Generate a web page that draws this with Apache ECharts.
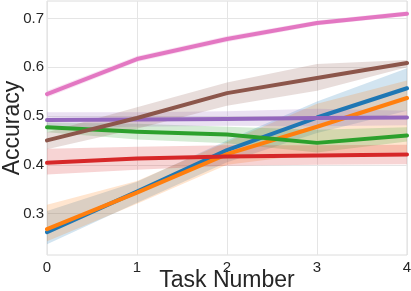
<!DOCTYPE html>
<html>
<head>
<meta charset="utf-8">
<script src="https://cdn.jsdelivr.net/npm/echarts@6/dist/echarts.min.js"></script>
<style>html,body{margin:0;padding:0;background:#fff}#c{width:411px;height:291px}</style>
</head>
<body>
<div id="c"></div>
<script>
const tasks = ['0', '1', '2', '3', '4'];
const yTicks = [0.3, 0.4, 0.5, 0.6, 0.7];

const blueMean = [0.262, 0.345, 0.430, 0.497, 0.557];
const blueLo   = [0.237, 0.322, 0.405, 0.465, 0.511];
const blueHi   = [0.305, 0.365, 0.450, 0.530, 0.598];

const orangeMean = [0.268, 0.343, 0.422, 0.478, 0.537];
const orangeLo   = [0.243, 0.320, 0.400, 0.423, 0.426];
const orangeHi   = [0.318, 0.367, 0.447, 0.525, 0.573];

const greenMean = [0.477, 0.468, 0.462, 0.445, 0.460];
const greenLo   = [0.467, 0.452, 0.444, 0.425, 0.448];
const greenHi   = [0.487, 0.484, 0.478, 0.472, 0.477];

const redMean = [0.404, 0.413, 0.417, 0.419, 0.421];
const redLo   = [0.380, 0.390, 0.398, 0.400, 0.401];
const redHi   = [0.433, 0.437, 0.440, 0.440, 0.441];

const purpleMean = [0.492, 0.493, 0.494, 0.496, 0.497];
const purpleLo   = [0.476, 0.478, 0.480, 0.479, 0.481];
const purpleHi   = [0.508, 0.508, 0.510, 0.515, 0.511];

const brownMean = [0.450, 0.496, 0.547, 0.578, 0.609];
const brownLo   = [0.432, 0.474, 0.521, 0.552, 0.600];
const brownHi   = [0.467, 0.518, 0.569, 0.607, 0.615];

const pinkMean = [0.545, 0.617, 0.658, 0.691, 0.710];
const pinkLo   = [0.538, 0.611, 0.652, 0.686, 0.705];
const pinkHi   = [0.552, 0.623, 0.664, 0.696, 0.715];

const groups = [
  {name: 'blue',   color: '#1f77b4', mean: blueMean,   lo: blueLo,   hi: blueHi},
  {name: 'orange', color: '#ff7f0e', mean: orangeMean, lo: orangeLo, hi: orangeHi},
  {name: 'green',  color: '#2ca02c', mean: greenMean,  lo: greenLo,  hi: greenHi},
  {name: 'red',    color: '#d62728', mean: redMean,    lo: redLo,    hi: redHi},
  {name: 'purple', color: '#9467bd', mean: purpleMean, lo: purpleLo, hi: purpleHi},
  {name: 'brown',  color: '#8c564b', mean: brownMean,  lo: brownLo,  hi: brownHi},
  {name: 'pink',   color: '#e377c2', mean: pinkMean,   lo: pinkLo,   hi: pinkHi}
];

const series = [];
groups.forEach((g, i) => {
  series.push({
    type: 'line', name: g.name + '_lo', data: g.lo, stack: 'band' + i,
    symbol: 'none', lineStyle: {opacity: 0}, z: 1 + i * 2, silent: true
  });
  series.push({
    type: 'line', name: g.name + '_band', data: g.hi.map((h, k) => h - g.lo[k]), stack: 'band' + i,
    symbol: 'none', lineStyle: {opacity: 0}, areaStyle: {color: g.color, opacity: 0.2},
    z: 2 + i * 2, silent: true
  });
});
groups.forEach((g, i) => {
  series.push({
    type: 'line', name: g.name, data: g.mean, symbol: 'none',
    lineStyle: {color: g.color, width: 4, cap: 'round', join: 'round'},
    itemStyle: {color: g.color}, z: 20 + i
  });
});

const chart = echarts.init(document.getElementById('c'), null, {renderer: 'canvas'});
chart.setOption({
  animation: false,
  backgroundColor: '#fff',
  grid: {left: 47, right: 4, top: 1, bottom: 36, containLabel: false, outerBoundsMode: 'none',
         show: true, borderColor: '#dcdcdc', borderWidth: 1},
  xAxis: {
    type: 'category', data: tasks, boundaryGap: false,
    axisLine: {show: false}, axisTick: {show: false},
    axisLabel: {color: '#262626', fontSize: 15, fontFamily: 'Liberation Sans', margin: 5},
    splitLine: {show: true, lineStyle: {color: '#e5e5e5', width: 1}},
    name: 'Task Number', nameLocation: 'middle', nameGap: 14, nameMoveOverlap: false,
    nameTextStyle: {color: '#262626', fontSize: 23, fontFamily: 'Liberation Sans', verticalAlign: 'top'}
  },
  yAxis: {
    type: 'value', min: 0.215, max: 0.736,
    axisLine: {show: false},
    axisTick: {show: false, customValues: yTicks},
    axisLabel: {customValues: yTicks, formatter: v => v.toFixed(1), color: '#262626', fontSize: 15, fontFamily: 'Liberation Sans', margin: 3},
    splitLine: {show: true, lineStyle: {color: '#e5e5e5', width: 1}},
    name: 'Accuracy', nameLocation: 'middle', nameGap: 23, nameMoveOverlap: false,
    nameTextStyle: {color: '#262626', fontSize: 23, fontFamily: 'Liberation Sans'}
  },
  series: series
});
</script>
</body>
</html>
